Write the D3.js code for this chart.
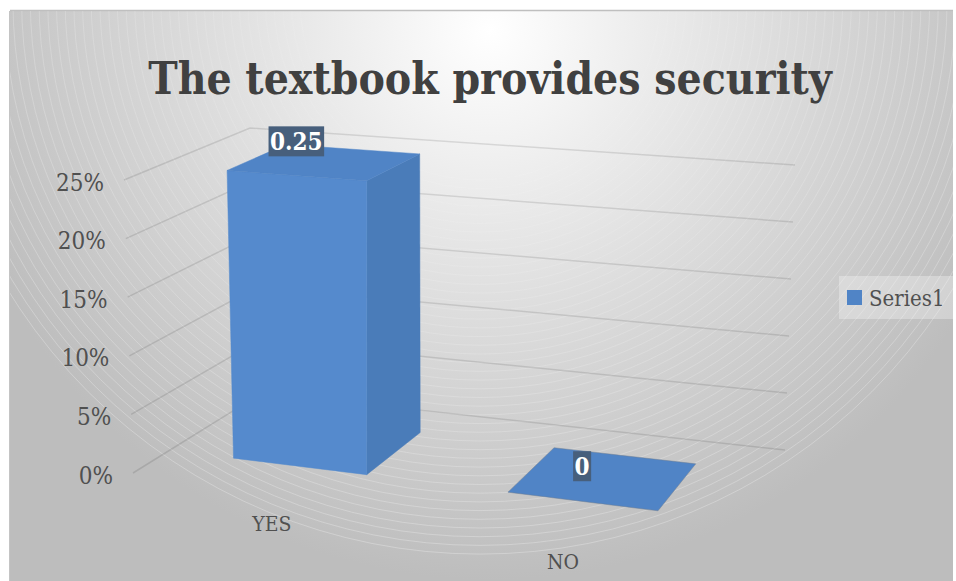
<!DOCTYPE html>
<html>
<head>
<meta charset="utf-8">
<script src="https://cdn.jsdelivr.net/npm/d3@7/dist/d3.min.js"></script>
<style>
html,body{margin:0;padding:0;background:#fff}
svg{display:block}
text{font-family:"DejaVu Serif Condensed","DejaVu Serif",serif}
</style>
</head>
<body>
<svg id="chart" width="956" height="581"></svg>
<script>
const chartTitle = "The textbook provides security";
const seriesName = "Series1";
const categories = ["YES", "NO"];
const seriesValues = [0.25, 0];
const tickValues = [0, 0.05, 0.10, 0.15, 0.20, 0.25];

const svg = d3.select("#chart");
const defs = svg.append("defs");

// Chart plate with a centred radial fill
const grad = defs.append("radialGradient").attr("id", "plate")
  .attr("gradientUnits", "userSpaceOnUse")
  .attr("cx", 490).attr("cy", 30).attr("r", 550);
grad.append("stop").attr("offset", 0).attr("stop-color", "#ffffff");
grad.append("stop").attr("offset", 1).attr("stop-color", "#bdbdbd");

const frame = {x: 10, y: 11, w: 943, h: 570};
defs.append("clipPath").attr("id", "frameClip").append("rect")
  .attr("x", frame.x).attr("y", frame.y).attr("width", frame.w).attr("height", frame.h);

svg.append("rect").attr("x", frame.x).attr("y", frame.y)
  .attr("width", frame.w).attr("height", frame.h).attr("fill", "url(#plate)");
svg.append("line").attr("x1", frame.x).attr("x2", frame.x + frame.w)
  .attr("y1", frame.y - 0.5).attr("y2", frame.y - 0.5)
  .attr("stroke", "#bfbfbf").attr("stroke-width", 1.5);
svg.append("line").attr("x1", frame.x - 0.5).attr("x2", frame.x - 0.5)
  .attr("y1", frame.y).attr("y2", frame.y + frame.h)
  .attr("stroke", "#c4c4c4").attr("stroke-width", 1);

// Fine banding rings of the fill
svg.append("g").attr("clip-path", "url(#frameClip)")
  .selectAll("circle").data(d3.range(180, 562, 8.7)).join("circle")
  .attr("cx", 480).attr("cy", 0).attr("r", d => d)
  .attr("fill", "none").attr("stroke", "#fff").attr("stroke-width", 0.6)
  .attr("stroke-opacity", d => 0.12 + 0.33 * (d - 180) / 380);

// Perspective map of the unit square onto a quadrilateral
function quadMap(p00, p10, p11, p01) {
  const dx1 = p10[0] - p11[0], dx2 = p01[0] - p11[0], sx = p00[0] - p10[0] + p11[0] - p01[0];
  const dy1 = p10[1] - p11[1], dy2 = p01[1] - p11[1], sy = p00[1] - p10[1] + p11[1] - p01[1];
  const den = dx1 * dy2 - dx2 * dy1;
  const g = (sx * dy2 - dx2 * sy) / den, h = (dx1 * sy - sx * dy1) / den;
  const a = p10[0] - p00[0] + g * p10[0], b = p01[0] - p00[0] + h * p01[0], c = p00[0];
  const d = p10[1] - p00[1] + g * p10[1], e = p01[1] - p00[1] + h * p01[1], f = p00[1];
  return (u, v) => {
    const w = g * u + h * v + 1;
    return [(a * u + b * v + c) / w, (d * u + e * v + f) / w];
  };
}

// Floor and ceiling of the 3D plot box: front-left, front-right, back-right, back-left
const floorAt = quadMap([133, 473], [717, 549], [785, 450], [262, 393]);
const ceilAt = quadMap([124, 180], [722, 226], [795, 165], [250, 128]);

const xBand = d3.scaleBand().domain(categories).range([0, 1]).paddingInner(0.5).paddingOuter(0.25);
const depth = d3.scaleLinear().domain([0, 1]).range([0, 1]);
const yLift = d3.scaleLinear().domain([0, 0.25]).range([0, 1]);
const barDepth = [0.26, 0.75];

function project(u, v, value) {
  const lo = floorAt(u, depth(v)), hi = ceilAt(u, depth(v)), t = yLift(value);
  return [lo[0] + (hi[0] - lo[0]) * t, lo[1] + (hi[1] - lo[1]) * t];
}

// Gridlines on the side and back walls
const grid = svg.append("g").attr("fill", "none").attr("stroke", "#000")
  .attr("stroke-opacity", 0.11).attr("stroke-width", 1.5);
tickValues.forEach(t => {
  grid.append("path").attr("d", d3.line()([project(0, 0, t), project(0, 1, t), project(1, 1, t)]));
});

// Value axis labels
const pct = d3.format(".0%");
svg.append("g").selectAll("text").data(tickValues).join("text")
  .attr("x", d => project(0, 0, d)[0] - 20)
  .attr("y", d => project(0, 0, d)[1] + 10.5)
  .attr("text-anchor", "end").attr("font-size", 24).attr("fill", "#505050")
  .text(d => pct(d));

// Category labels
svg.append("g").selectAll("text").data(categories).join("text")
  .attr("x", d => project(xBand(d) + xBand.bandwidth() / 2, 0, 0)[0] + 6)
  .attr("y", d => project(xBand(d) + xBand.bandwidth() / 2, 0, 0)[1] + 41)
  .attr("text-anchor", "middle").attr("font-size", 21).attr("fill", "#505050")
  .text(d => d);

// Bars: right side, front and top faces
const line = d3.line();
const bars = svg.append("g").selectAll("g").data(categories).join("g");
bars.each(function (cat, i) {
  const g = d3.select(this), val = seriesValues[i];
  const u0 = xBand(cat), u1 = u0 + xBand.bandwidth();
  const [v0, v1] = barDepth;
  const face = (pts, fill, edge) => g.append("path").attr("d", line(pts) + "Z")
    .attr("fill", fill).attr("stroke", edge || fill).attr("stroke-width", 0.5);
  if (val > 0) {
    face([project(u1, v0, 0), project(u1, v1, 0), project(u1, v1, val), project(u1, v0, val)], "#4a7cb9");
    face([project(u0, v0, 0), project(u1, v0, 0), project(u1, v0, val), project(u0, v0, val)], "#558acd");
  }
  face([project(u0, v0, val), project(u1, v0, val), project(u1, v1, val), project(u0, v1, val)], "#5084c6",
    val > 0 ? null : "#6f7f92");
});

// Data labels on dark boxes
const labels = svg.append("g").selectAll("g").data(categories).join("g");
labels.each(function (cat, i) {
  const val = seriesValues[i];
  const c = project(xBand(cat) + xBand.bandwidth() / 2, 0.5, val);
  const cx = c[0] - 21 - 7 * yLift(val), cy = c[1] - 12 - 9 * yLift(val);
  const g = d3.select(this);
  const box = g.append("rect").attr("fill", "#475f7c");
  const txt = g.append("text").attr("x", cx).attr("y", cy + 9)
    .attr("text-anchor", "middle").attr("font-size", 24).attr("font-weight", "bold")
    .attr("fill", "#fff").text(String(val));
  const w = txt.node().getComputedTextLength() + 3;
  box.attr("x", cx - w / 2).attr("y", cy - 15).attr("width", w).attr("height", 30);
});

// Title
svg.append("text").attr("x", 490).attr("y", 94).attr("text-anchor", "middle")
  .attr("font-size", 44).attr("font-weight", "bold").attr("fill", "#404040")
  .text(chartTitle);

// Legend
const legend = svg.append("g");
legend.append("rect").attr("x", 839).attr("y", 276).attr("width", 114).attr("height", 43)
  .attr("fill", "#fff").attr("fill-opacity", 0.3);
legend.append("rect").attr("x", 847).attr("y", 290).attr("width", 15).attr("height", 15).attr("fill", "#5084c6");
legend.append("text").attr("x", 869).attr("y", 306).attr("font-size", 22).attr("fill", "#505050").text(seriesName);
</script>
</body>
</html>
